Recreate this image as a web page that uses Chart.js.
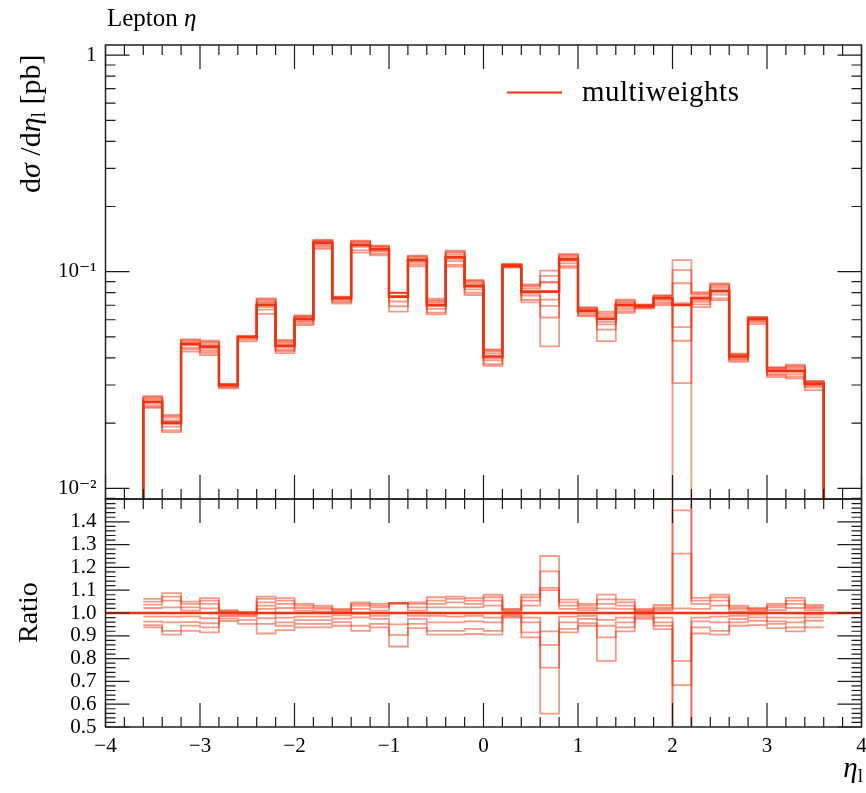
<!DOCTYPE html>
<html><head><meta charset="utf-8">
<script src="https://cdn.jsdelivr.net/npm/chart.js@4.4.1/dist/chart.umd.min.js"></script>
<style>
html,body{margin:0;padding:0;background:#fff;}
#wrap{position:relative;width:866px;height:793px;overflow:hidden;}
canvas{position:absolute;left:0;top:0;}
</style></head><body>
<div id="wrap"><canvas id="main" width="866" height="793"></canvas><canvas id="ratio" width="866" height="793"></canvas></div>
<script>
// ---------- data ----------
const binEdges = [-3.6,-3.4,-3.2,-3.0,-2.8,-2.6,-2.4,-2.2,-2.0,-1.8,-1.6,-1.4,-1.2,-1.0,-0.8,-0.6,-0.4,-0.2,0.0,
                  0.2,0.4,0.6,0.8,1.0,1.2,1.4,1.6,1.8,2.0,2.2,2.4,2.6,2.8,3.0,3.2,3.4,3.6];
const nominal = [0.0251,0.0201,0.0464,0.0451,0.0300,0.0501,0.0702,0.0455,0.0605,0.1360,0.0754,0.1328,
                 0.1270,0.0767,0.1132,0.0702,0.1166,0.0860,0.0406,0.1066,0.0809,0.0809,0.1140,0.0660,
                 0.0605,0.0702,0.0694,0.0754,0.0702,0.0754,0.0817,0.0406,0.0605,0.0349,0.0349,0.0303];
// ratios of the weight variations to the nominal, per bin
const var1 = [1.062,1.087,1.050,1.065,1.012,1.005,1.072,1.065,1.040,1.032,1.018,1.047,1.040,1.044,1.047,1.069,1.072,1.065,1.080,1.018,1.081,1.250,1.059,1.040,1.081,1.059,1.018,1.035,1.610,1.066,1.080,1.032,1.022,1.040,1.066,1.035];
const var2 = [1.050,1.072,1.040,1.054,1.008,1.002,1.062,1.054,1.032,1.025,1.014,1.040,1.032,1.044,1.040,1.054,1.062,1.054,1.069,1.015,1.069,1.183,1.047,1.032,1.060,1.047,1.012,1.025,1.450,1.054,1.069,1.025,1.018,1.032,1.054,1.028];
const var3 = [1.037,1.054,1.025,1.040,1.004,0.998,1.047,1.040,1.022,1.018,1.008,1.032,1.025,1.042,1.025,1.040,1.047,1.040,1.054,1.010,1.054,1.110,1.032,1.022,1.040,1.032,1.008,1.018,1.260,1.040,1.054,1.018,1.013,1.025,1.040,1.022];
const var4 = [1.022,1.025,1.010,1.020,0.997,0.995,1.032,1.022,1.010,1.007,1.003,1.018,1.010,1.040,1.010,1.025,1.025,1.025,1.032,1.005,1.032,1.100,1.018,1.013,1.020,1.018,1.004,1.010,1.020,1.018,1.032,1.007,1.007,1.013,1.022,1.013];
const var5 = [0.984,0.984,0.985,0.977,0.990,0.990,1.018,0.980,0.984,0.984,0.990,0.996,0.988,1.000,0.988,0.988,0.984,0.988,0.980,0.995,0.980,0.919,0.984,0.988,0.970,0.980,0.996,0.980,0.790,0.980,0.984,0.988,0.993,0.980,0.980,0.993];
const var6 = [0.962,0.959,0.960,0.955,0.985,0.985,0.977,0.959,0.969,0.969,0.975,0.981,0.974,0.950,0.974,0.959,0.959,0.963,0.959,0.990,0.959,0.860,0.959,0.974,0.944,0.959,0.990,0.959,0.684,0.963,0.959,0.974,0.981,0.963,0.959,0.981];
const var7 = [0.947,0.922,0.945,0.937,0.975,0.970,0.952,0.944,0.952,0.952,0.960,0.944,0.952,0.903,0.952,0.922,0.922,0.930,0.922,0.985,0.915,0.760,0.930,0.955,0.893,0.937,0.982,0.944,0.436,0.937,0.922,0.959,0.966,0.952,0.937,0.966];
const var8 = [0.937,0.905,0.922,0.915,0.965,0.952,0.910,0.925,0.937,0.937,0.944,0.922,0.937,0.853,0.934,0.905,0.905,0.908,0.905,0.980,0.893,0.559,0.915,0.944,0.790,0.919,0.974,0.929,0.020,0.910,0.905,0.944,0.947,0.934,0.919,0.937];
const variations = [var1,var2,var3,var4,var5,var6,var7,var8];
const xTickLabels = ['\u22124','\u22123','\u22122','\u22121','0','1','2','3','4'];
const yTopTicks = [0.01, 0.1, 1];
const yTopLabels = ['10\u207B\u00B2','10\u207B\u00B9','1'];
const yRatioTicks = [0.5,0.6,0.7,0.8,0.9,1.0,1.1,1.2,1.3,1.4];
const legendLabel = 'multiweights';

// ---------- style ----------
const RED = 'rgb(238,51,17)';
const RED_FAINT = 'rgba(238,51,17,0.5)';
const SERIF = '"Liberation Serif", "DejaVu Serif", serif';
const FLOOR = 1e-4;

function histPoints(values, drop) {
  const pts = [];
  if (drop) pts.push({x: binEdges[0], y: FLOOR});
  for (let i = 0; i < values.length; i++) pts.push({x: binEdges[i], y: values[i]});
  pts.push({x: binEdges[values.length], y: values[values.length - 1]});
  if (drop) pts.push({x: binEdges[values.length], y: FLOOR});
  return pts;
}
function lineDs(data, main) {
  return {data, stepped: 'before', borderColor: main ? RED : RED_FAINT, borderWidth: main ? 2.6 : 1.8,
          pointRadius: 0, fill: false, tension: 0, clip: 0, borderJoinStyle: 'miter'};
}

function tickPlugin(yTickFn) {
  return {
    id: 'frameTicks',
    afterDatasetsDraw(chart) {
      const {ctx, chartArea: a, scales} = chart;
      const xs = scales.x, ys = scales.y;
      ctx.save();
      ctx.strokeStyle = '#1a1a1a';
      ctx.lineWidth = 1.2;
      ctx.beginPath();
      for (let k = -20; k <= 20; k++) {
        const px = xs.getPixelForValue(k * 0.2);
        const L = (k % 5 === 0) ? 24 : 10;
        ctx.moveTo(px, a.bottom); ctx.lineTo(px, a.bottom - L);
        ctx.moveTo(px, a.top); ctx.lineTo(px, a.top + L);
      }
      for (const t of yTickFn()) {
        const py = ys.getPixelForValue(t.v);
        if (py < a.top - 0.5 || py > a.bottom + 0.5) continue;
        const L = t.major ? 24 : 10;
        ctx.moveTo(a.left, py); ctx.lineTo(a.left + L, py);
        ctx.moveTo(a.right, py); ctx.lineTo(a.right - L, py);
      }
      ctx.stroke();
      ctx.lineWidth = 1.5;
      ctx.strokeStyle = '#222';
      ctx.strokeRect(a.left, a.top, a.right - a.left, a.bottom - a.top);
      ctx.restore();
    }
  };
}

function logTicks() {
  const out = [];
  for (const d of [0.001, 0.01, 0.1, 1]) for (let m = 1; m <= 9; m++) out.push({v: m * d, major: m === 1});
  return out;
}
function ratioTicks() {
  const out = [];
  for (let k = 25; k <= 75; k++) out.push({v: k * 0.02, major: k % 5 === 0});
  return out;
}

function drawSegs(ctx, segs, x, y) {
  let cx = x;
  for (const s of segs) {
    ctx.font = s.font;
    ctx.letterSpacing = s.ls || '0px';
    ctx.fillText(s.t, cx, y + (s.dy || 0));
    cx += ctx.measureText(s.t).width;
  }
  ctx.letterSpacing = '0px';
  return cx;
}
function segsWidth(ctx, segs) {
  let w = 0;
  for (const s of segs) { ctx.font = s.font; w += ctx.measureText(s.t).width; }
  return w;
}

const textPlugin = {
  id: 'texts',
  afterDraw(chart) {
    const ctx = chart.ctx;
    ctx.save();
    ctx.fillStyle = '#000';
    ctx.textBaseline = 'alphabetic';
    ctx.textAlign = 'left';
    // title
    drawSegs(ctx, [{t: 'Lepton ', font: '25px ' + SERIF}, {t: '\u03B7', font: 'italic 25px ' + SERIF}], 107, 26);
    // y title (top panel)
    const ySegs = [
      {t: 'd', font: '30px ' + SERIF}, {t: '\u03C3', font: 'italic 30px ' + SERIF},
      {t: ' /', font: '30px ' + SERIF}, {t: 'd', font: '30px ' + SERIF},
      {t: '\u03B7', font: 'italic 30px ' + SERIF}, {t: 'l', font: '20px ' + SERIF, dy: 5},
      {t: ' [pb]', font: '30px ' + SERIF}
    ];
    ctx.save();
    ctx.translate(40, 193);
    ctx.rotate(-Math.PI / 2);
    drawSegs(ctx, ySegs, 0, 0);
    ctx.restore();
    // ratio title
    ctx.save();
    ctx.translate(37, 643);
    ctx.rotate(-Math.PI / 2);
    drawSegs(ctx, [{t: 'Ratio', font: '28px ' + SERIF}], 0, 0);
    ctx.restore();
    // x title
    const xSegs = [{t: '\u03B7', font: 'italic 29px ' + SERIF}, {t: 'l', font: '19px ' + SERIF, dy: 5}];
    const w = segsWidth(ctx, xSegs);
    drawSegs(ctx, xSegs, 863 - w, 777);
    // legend
    ctx.strokeStyle = RED;
    ctx.lineWidth = 2;
    ctx.beginPath(); ctx.moveTo(507, 92.5); ctx.lineTo(562, 92.5); ctx.stroke();
    drawSegs(ctx, [{t: legendLabel, font: '29px ' + SERIF, ls: '0.5px'}], 582, 101);
    ctx.restore();
  }
};

// ---------- top panel ----------
const topDatasets = [lineDs(histPoints(nominal, true), true)];
variations.forEach(r => topDatasets.push(lineDs(histPoints(nominal.map((v, i) => v * r[i]), true), false)));

new Chart(document.getElementById('main'), {
  type: 'line',
  data: {datasets: topDatasets},
  options: {
    responsive: false, animation: false, events: [],
    layout: {padding: {top: 45, right: 4.5, bottom: 294, left: 0}},
    plugins: {legend: {display: false}, tooltip: {enabled: false}},
    scales: {
      x: {type: 'linear', min: -4, max: 4, ticks: {display: false}, grid: {display: false, drawTicks: false},
          border: {display: false}, afterFit: s => { s.height = 0; s.paddingLeft = 0; s.paddingRight = 0; }},
      y: {type: 'logarithmic', min: 0.00893, max: 1.113,
          afterBuildTicks: s => { s.ticks = yTopTicks.map(v => ({value: v})); },
          ticks: {callback: (v, i) => yTopLabels[i], font: {family: SERIF, size: 21}, color: '#000', padding: 9,
                  autoSkip: false},
          grid: {display: false, drawTicks: false}, border: {display: false},
          afterFit: s => { s.width = 105.5; s.paddingTop = 0; s.paddingBottom = 0; }}
    }
  },
  plugins: [tickPlugin(logTicks), textPlugin]
});

// ---------- ratio panel ----------
const ratioDatasets = [lineDs([{x: -4, y: 1}, {x: 4, y: 1}], true)];
variations.forEach(r => ratioDatasets.push(lineDs(histPoints(r, false), false)));

new Chart(document.getElementById('ratio'), {
  type: 'line',
  data: {datasets: ratioDatasets},
  options: {
    responsive: false, animation: false, events: [],
    layout: {padding: {top: 499, right: 4.5, bottom: 0, left: 0}},
    plugins: {legend: {display: false}, tooltip: {enabled: false}},
    scales: {
      x: {type: 'linear', min: -4, max: 4,
          afterBuildTicks: s => { s.ticks = xTickLabels.map((_, i) => ({value: i - 4})); },
          ticks: {callback: (v, i) => xTickLabels[i], font: {family: SERIF, size: 21}, color: '#000',
                  padding: 7, autoSkip: false, maxRotation: 0},
          grid: {display: false, drawTicks: false}, border: {display: false},
          afterFit: s => { s.height = 66; s.paddingLeft = 0; s.paddingRight = 0; }},
      y: {type: 'linear', min: 0.5, max: 1.5,
          afterBuildTicks: s => { s.ticks = yRatioTicks.map(v => ({value: v})); },
          ticks: {callback: v => v.toFixed(1), font: {family: SERIF, size: 21}, color: '#000', padding: 9,
                  autoSkip: false},
          grid: {display: false, drawTicks: false}, border: {display: false},
          afterFit: s => { s.width = 105.5; s.paddingTop = 0; s.paddingBottom = 0; }}
    }
  },
  plugins: [tickPlugin(ratioTicks)]
});
</script>
</body></html>
